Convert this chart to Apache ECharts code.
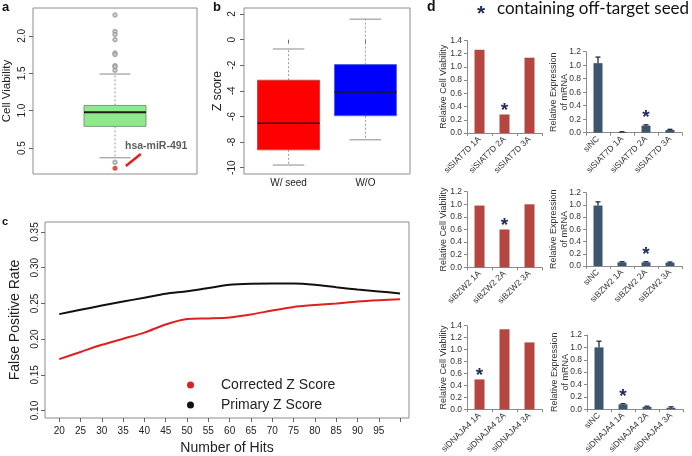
<!DOCTYPE html>
<html><head><meta charset="utf-8">
<script src="https://cdn.jsdelivr.net/npm/echarts@6/dist/echarts.min.js"></script>
<style>html,body{margin:0;padding:0;background:#fff}#c{width:692px;height:456px}</style>
</head><body><div id="c"></div>
<script>
// ---------- Panel a ----------
const aTicks = [0.5, 1.0, 1.5, 2.0];
const aBox = [0.37, 0.79, 0.98, 1.07, 1.49]; // lower whisker, q1, median, q3, upper whisker
const aOutliers = [2.28, 2.06, 2.02, 1.95, 1.77, 1.75, 1.60, 1.59, 1.54, 0.31];
const aHighlight = [0.23];
const aHighlightName = 'hsa-miR-491';

// ---------- Panel b ----------
const bCategories = ['W/ seed', 'W/O'];
const bTicks = [-10, -8, -6, -4, -2, 0, 2];
const bWithSeed = [-9.79, -8.6, -6.52, -3.17, -0.73];
const bWithout = [-7.82, -5.94, -4.09, -1.95, 1.6];

// ---------- Panel c ----------
const cHits = [20, 25, 30, 35, 40, 45, 50, 55, 60, 65, 70, 75, 80, 85, 90, 95, 100];
const cCorrected = [0.172, 0.182, 0.192, 0.2005, 0.209, 0.2205, 0.228, 0.229, 0.2304, 0.2345, 0.240, 0.245, 0.2477, 0.250, 0.2526, 0.2544, 0.2558];
const cPrimary = [0.235, 0.241, 0.247, 0.2526, 0.258, 0.2635, 0.267, 0.2716, 0.276, 0.2775, 0.278, 0.278, 0.2762, 0.2726, 0.2694, 0.2667, 0.264];
const cXTicks = [20, 25, 30, 35, 40, 45, 50, 55, 60, 65, 70, 75, 80, 85, 90, 95, 100];
const cXLabels = [20, 25, 30, 35, 40, 45, 50, 55, 60, 65, 70, 75, 80, 85, 90, 95];
const cYTicks = [0.10, 0.15, 0.20, 0.25, 0.30, 0.35];
const cSeriesNames = ['Corrected Z Score', 'Primary Z Score'];

// ---------- Panel d ----------
const dTitle = 'containing off-target seed';
const siat7dViabCats = ['siSIAT7D 1A', 'siSIAT7D 2A', 'siSIAT7D 3A'];
const siat7dViab = [1.26, 0.28, 1.14];
const siat7dViabStar = [1];
const siat7dMrnaCats = ['siNC', 'siSIAT7D 1A', 'siSIAT7D 2A', 'siSIAT7D 3A'];
const siat7dMrna = [1.03, 0.01, 0.105, 0.04];
const siat7dMrnaErr = [0.09, 0.004, 0.012, 0.01];
const siat7dMrnaStar = [2];

const bzw2ViabCats = ['siBZW2 1A', 'siBZW2 2A', 'siBZW2 3A'];
const bzw2Viab = [0.98, 0.60, 1.0];
const bzw2ViabStar = [1];
const bzw2MrnaCats = ['siNC', 'siBZW2 1A', 'siBZW2 2A', 'siBZW2 3A'];
const bzw2Mrna = [0.99, 0.06, 0.06, 0.055];
const bzw2MrnaErr = [0.06, 0.01, 0.01, 0.01];
const bzw2MrnaStar = [2];

const dnaja4ViabCats = ['siDNAJA4 1A', 'siDNAJA4 2A', 'siDNAJA4 3A'];
const dnaja4Viab = [0.50, 1.34, 1.12];
const dnaja4ViabStar = [0];
const dnaja4MrnaCats = ['siNC', 'siDNAJA4 1A', 'siDNAJA4 2A', 'siDNAJA4 3A'];
const dnaja4Mrna = [1.0, 0.08, 0.04, 0.025];
const dnaja4MrnaErr = [0.1, 0.01, 0.01, 0.015];
const dnaja4MrnaStar = [1];

const FONT = 'Liberation Sans, Arial, sans-serif';
const RED_BAR = '#B5453F', BLUE_BAR = '#3D566E', STAR = '#1F2B5A';

function boxRender(fills, borders, halfBox, halfCap, medW) {
  return function (params, api) {
    const x = api.value(0);
    const pLo = api.coord([x, api.value(1)]);
    const pQ1 = api.coord([x, api.value(2)]);
    const pMd = api.coord([x, api.value(3)]);
    const pQ3 = api.coord([x, api.value(4)]);
    const pHi = api.coord([x, api.value(5)]);
    const cx = pMd[0];
    const wStyle = {stroke: '#9a9a9a', lineWidth: 1, lineDash: [2, 2]};
    const cStyle = {stroke: '#8a8a8a', lineWidth: 1};
    return {type: 'group', children: [
      {type: 'line', shape: {x1: cx, y1: pQ3[1], x2: cx, y2: pHi[1]}, style: wStyle},
      {type: 'line', shape: {x1: cx, y1: pQ1[1], x2: cx, y2: pLo[1]}, style: wStyle},
      {type: 'line', shape: {x1: cx - halfCap, y1: pHi[1], x2: cx + halfCap, y2: pHi[1]}, style: cStyle},
      {type: 'line', shape: {x1: cx - halfCap, y1: pLo[1], x2: cx + halfCap, y2: pLo[1]}, style: cStyle},
      {type: 'rect', shape: {x: cx - halfBox, y: pQ3[1], width: 2 * halfBox, height: pQ1[1] - pQ3[1]},
        style: {fill: fills[params.dataIndex], stroke: borders[params.dataIndex], lineWidth: 1}},
      {type: 'line', shape: {x1: cx - halfBox, y1: pMd[1], x2: cx + halfBox, y2: pMd[1]}, style: {stroke: '#1a1a1a', lineWidth: medW}}
    ]};
  };
}

function errRender(params, api) {
  const x = api.value(0), v = api.value(1), e = api.value(2);
  const p0 = api.coord([x, v]);
  const p1 = api.coord([x, v + e]);
  const st = {stroke: '#1d2b3a', lineWidth: 1.3};
  return {type: 'group', children: [
    {type: 'line', shape: {x1: p0[0], y1: p0[1], x2: p1[0], y2: p1[1]}, style: st},
    {type: 'line', shape: {x1: p1[0] - 2.5, y1: p1[1], x2: p1[0] + 2.5, y2: p1[1]}, style: st}
  ]};
}

const frame = {show: true, borderColor: '#8c8c8c', borderWidth: 1, backgroundColor: 'transparent', containLabel: false};
const grids = [
  Object.assign({left: 31, top: 8, width: 166, height: 166}, frame),
  Object.assign({left: 244, top: 8, width: 166, height: 166}, frame),
  Object.assign({left: 43, top: 222, width: 366, height: 202}, frame),
  {left: 467, top: 40.5, width: 75, height: 92.5},
  {left: 586, top: 51.7, width: 96, height: 81},
  {left: 467, top: 191.7, width: 75, height: 75.6},
  {left: 586, top: 192.7, width: 96, height: 73.3},
  {left: 467, top: 325.7, width: 75, height: 87},
  {left: 587, top: 335, width: 96, height: 77.3}
];

const rTick = {show: true, length: 4, lineStyle: {color: '#666', width: 1}};
const rLabel = {fontSize: 10, color: '#222', fontFamily: FONT};

const xAxes = [
  {gridIndex: 0, type: 'value', min: 0.5, max: 1.5, show: false},
  {gridIndex: 1, type: 'value', min: 0.42, max: 2.58, axisLine: {show: false}, splitLine: {show: false},
    axisTick: Object.assign({customValues: [1, 2]}, rTick),
    axisLabel: Object.assign({customValues: [1, 2], margin: 4, formatter: v => bCategories[v - 1]}, rLabel)},
  {gridIndex: 2, type: 'value', min: 16.66, max: 102.1, axisLine: {show: false}, splitLine: {show: false},
    axisTick: Object.assign({customValues: cXTicks}, rTick),
    axisLabel: Object.assign({customValues: cXLabels, margin: 8}, rLabel),
    name: 'Number of Hits', nameLocation: 'middle', nameGap: 23, nameMoveOverlap: false,
    nameTextStyle: {fontSize: 14, color: '#222', fontFamily: FONT}}
];
const yAxes = [
  {gridIndex: 0, type: 'value', min: 0.153, max: 2.373, axisLine: {show: false}, splitLine: {show: false},
    axisTick: Object.assign({customValues: aTicks}, rTick),
    axisLabel: Object.assign({customValues: aTicks, rotate: 90, margin: 6, formatter: v => v.toFixed(1)}, rLabel),
    name: 'Cell Viability', nameLocation: 'middle', nameRotate: 90, nameGap: 20, nameMoveOverlap: false,
    nameTextStyle: {fontSize: 11.5, color: '#222', fontFamily: FONT}},
  {gridIndex: 1, type: 'value', min: -10.49, max: 2.47, axisLine: {show: false}, splitLine: {show: false},
    axisTick: Object.assign({customValues: bTicks}, rTick),
    axisLabel: Object.assign({customValues: bTicks, rotate: 90, margin: 7, formatter: v => String(v)}, rLabel),
    name: 'Z score', nameLocation: 'middle', nameRotate: 90, nameGap: 20, nameMoveOverlap: false,
    nameTextStyle: {fontSize: 12, color: '#222', fontFamily: FONT}},
  {gridIndex: 2, type: 'value', min: 0.0895, max: 0.364, axisLine: {show: false}, splitLine: {show: false},
    axisTick: Object.assign({customValues: cYTicks}, rTick),
    axisLabel: Object.assign({customValues: cYTicks, rotate: 90, margin: 5, formatter: v => v.toFixed(2)}, rLabel),
    name: 'False Positive Rate', nameLocation: 'middle', nameRotate: 90, nameGap: 23, nameMoveOverlap: false,
    nameTextStyle: {fontSize: 14, color: '#222', fontFamily: FONT}}
];

const series = [
  {type: 'custom', xAxisIndex: 0, yAxisIndex: 0, renderItem: boxRender(['#90E88C'], ['#7d9a7b'], 31, 15.5, 2),
    data: [[1].concat(aBox)], z: 2},
  {type: 'scatter', xAxisIndex: 0, yAxisIndex: 0, symbol: 'emptyCircle', symbolSize: 3.5,
    itemStyle: {color: '#9a9a9a', borderWidth: 0.7}, data: aOutliers.map(v => [1, v]), z: 3},
  {type: 'scatter', xAxisIndex: 0, yAxisIndex: 0, symbol: 'circle', symbolSize: 5,
    itemStyle: {color: '#e3201c'}, data: aHighlight.map(v => [1, v]), z: 4,
    label: {show: true, position: [12.5, -19.5], align: 'left', verticalAlign: 'middle',
      formatter: () => aHighlightName, fontSize: 10.5, fontWeight: 'bold', color: '#333', fontFamily: FONT},
    markLine: {silent: true, symbol: ['none', 'arrow'], symbolSize: [0, 9], label: {show: false},
      lineStyle: {color: '#e3201c', width: 2.5, type: 'solid'},
      data: [[{coord: [1.157, 0.42]}, {coord: [1.066, 0.26]}]]}},
  {type: 'custom', xAxisIndex: 1, yAxisIndex: 1,
    renderItem: boxRender(['#FF0000', '#0000FF'], ['#d04040', '#5060e0'], 31, 15.8, 1.5),
    data: [[1].concat(bWithSeed), [2].concat(bWithout)], z: 2},
  {type: 'line', name: cSeriesNames[0], xAxisIndex: 2, yAxisIndex: 2, smooth: 0.25, showSymbol: false,
    lineStyle: {color: '#e0201e', width: 2}, itemStyle: {color: '#e0201e'},
    data: cHits.map((h, i) => [h, cCorrected[i]])},
  {type: 'line', name: cSeriesNames[1], xAxisIndex: 2, yAxisIndex: 2, smooth: 0.25, showSymbol: false,
    lineStyle: {color: '#111', width: 2}, itemStyle: {color: '#111'},
    data: cHits.map((h, i) => [h, cPrimary[i]])}
];

const dPanels = [
  {cats: siat7dViabCats, vals: siat7dViab, err: null, star: siat7dViabStar, max: 1.4, viab: true},
  {cats: siat7dMrnaCats, vals: siat7dMrna, err: siat7dMrnaErr, star: siat7dMrnaStar, max: 1.2, viab: false},
  {cats: bzw2ViabCats, vals: bzw2Viab, err: null, star: bzw2ViabStar, max: 1.2, viab: true},
  {cats: bzw2MrnaCats, vals: bzw2Mrna, err: bzw2MrnaErr, star: bzw2MrnaStar, max: 1.2, viab: false},
  {cats: dnaja4ViabCats, vals: dnaja4Viab, err: null, star: dnaja4ViabStar, max: 1.4, viab: true},
  {cats: dnaja4MrnaCats, vals: dnaja4Mrna, err: dnaja4MrnaErr, star: dnaja4MrnaStar, max: 1.2, viab: false}
];
const dAxisLine = {show: true, lineStyle: {color: '#8a8a8a', width: 1}};
dPanels.forEach((p, k) => {
  const gi = 3 + k;
  xAxes.push({gridIndex: gi, type: 'category', data: p.cats, axisLine: dAxisLine,
    axisTick: {show: true, length: 3, lineStyle: {color: '#8a8a8a'}},
    axisLabel: {show: true, interval: 0, rotate: 45, fontSize: 8.5, margin: 5, color: '#333', fontFamily: FONT,
      hideOverlap: false}});
  yAxes.push({gridIndex: gi, type: 'value', min: 0, max: p.max, interval: 0.2, axisLine: dAxisLine,
    splitLine: {show: false},
    axisTick: {show: true, length: 3, lineStyle: {color: '#8a8a8a'}},
    axisLabel: {fontSize: 8.5, margin: 5, color: '#333', fontFamily: FONT, formatter: v => v.toFixed(1)},
    name: p.viab ? 'Relative Cell Viability' : 'Relative Expression\nof mRNA',
    nameLocation: 'middle', nameRotate: 90, nameGap: p.viab ? 17.5 : 16, nameMoveOverlap: false,
    nameTextStyle: {fontSize: 9, color: '#333', fontFamily: FONT, lineHeight: 11}});
  series.push({type: 'bar', xAxisIndex: gi, yAxisIndex: gi, barWidth: p.viab ? 10 : 9,
    itemStyle: {color: p.viab ? RED_BAR : BLUE_BAR},
    label: {show: false, position: 'top', distance: p.viab ? -6 : -2, formatter: '*', fontSize: 19, fontWeight: 'bold',
      color: STAR, fontFamily: FONT},
    data: p.vals.map((v, i) => ({value: v, label: {show: p.star.indexOf(i) >= 0}}))});
  if (p.err) {
    series.push({type: 'custom', xAxisIndex: gi, yAxisIndex: gi, renderItem: errRender, z: 3,
      data: p.vals.map((v, i) => [i, v, p.err[i]])});
  }
});

const titleStyle = (sz) => ({fontSize: sz, fontWeight: 'bold', color: '#111', fontFamily: FONT});
const option = {
  animation: false,
  backgroundColor: '#fff',
  title: [
    {text: 'a', left: 2, top: 1, padding: 0, textStyle: titleStyle(13)},
    {text: 'b', left: 213, top: 1, padding: 0, textStyle: titleStyle(13)},
    {text: 'c', left: 2, top: 216, padding: 0, textStyle: titleStyle(11)},
    {text: 'd', left: 427, top: 0, padding: 0, textStyle: titleStyle(14)},
    {text: '*', left: 477, top: 4, padding: 0, textStyle: {fontSize: 21, fontWeight: 'bold', color: STAR, fontFamily: FONT}},
    {text: dTitle, left: 497, top: 0, padding: 0, textStyle: {fontSize: 17, fontWeight: 'normal', color: '#111', fontFamily: 'Lato, ' + FONT}}
  ],
  legend: {data: cSeriesNames.map(n => ({name: n, icon: 'circle'})), orient: 'vertical', left: 187, top: 377,
    itemWidth: 7, itemHeight: 7, itemGap: 4, padding: 0, selectedMode: false,
    textStyle: {fontSize: 14, color: '#222', fontFamily: FONT, lineHeight: 16, padding: [0, 0, 0, 22]}},
  grid: grids,
  xAxis: xAxes,
  yAxis: yAxes,
  series: series
};
const chart = echarts.init(document.getElementById('c'));
chart.setOption(option);
</script></body></html>
